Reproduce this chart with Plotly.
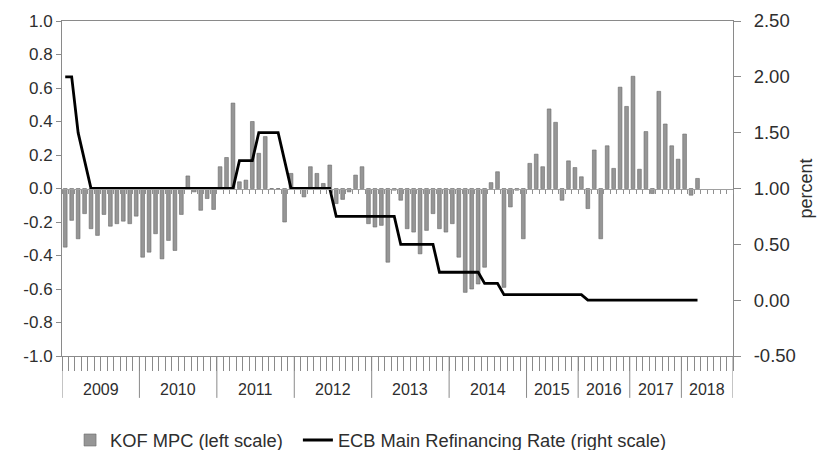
import plotly.graph_objects as go

# ---------------- data ----------------
years = [2009, 2010, 2011, 2012, 2013, 2014, 2015, 2016, 2017, 2018]
month_names = ["Jan", "Feb", "Mar", "Apr", "May", "Jun", "Jul", "Aug", "Sep", "Oct", "Nov", "Dec"]
meeting_months = ["Jan", "Mar", "Apr", "Jun", "Jul", "Sep", "Oct", "Dec"]  # 8 ECB meetings per year from 2015

kof_2009 = [-0.35, -0.19, -0.30, -0.15, -0.24, -0.28, -0.155, -0.225, -0.21, -0.195, -0.21, -0.165]
kof_2010 = [-0.41, -0.38, -0.27, -0.42, -0.31, -0.37, -0.155, 0.075, -0.02, -0.13, -0.06, -0.125]
kof_2011 = [0.13, 0.185, 0.51, 0.04, 0.05, 0.40, 0.21, 0.31, 0.0, 0.0, -0.20, 0.09]
kof_2012 = [0.0, -0.05, 0.13, 0.09, 0.03, 0.14, -0.09, -0.065, -0.02, 0.08, 0.13, -0.21]
kof_2013 = [-0.23, -0.22, -0.44, -0.01, -0.07, -0.24, -0.26, -0.39, -0.25, -0.15, -0.24, -0.26]
kof_2014 = [-0.21, -0.41, -0.62, -0.60, -0.57, -0.47, 0.035, 0.10, -0.59, -0.11, -0.01, -0.30]
kof_2015 = [0.15, 0.205, 0.13, 0.475, 0.395, -0.07, 0.165, 0.125]
kof_2016 = [0.07, -0.12, 0.23, -0.30, 0.255, 0.12, 0.605, 0.49]
kof_2017 = [0.67, 0.115, 0.34, -0.03, 0.58, 0.385, 0.255, 0.175]
kof_2018 = [0.325, -0.04, 0.06]

ecb_2009 = [2.00, 2.00, 1.50, 1.25, 1.00, 1.00, 1.00, 1.00, 1.00, 1.00, 1.00, 1.00]
ecb_2010 = [1.00, 1.00, 1.00, 1.00, 1.00, 1.00, 1.00, 1.00, 1.00, 1.00, 1.00, 1.00]
ecb_2011 = [1.00, 1.00, 1.00, 1.25, 1.25, 1.25, 1.50, 1.50, 1.50, 1.50, 1.25, 1.00]
ecb_2012 = [1.00, 1.00, 1.00, 1.00, 1.00, 1.00, 0.75, 0.75, 0.75, 0.75, 0.75, 0.75]
ecb_2013 = [0.75, 0.75, 0.75, 0.75, 0.50, 0.50, 0.50, 0.50, 0.50, 0.50, 0.25, 0.25]
ecb_2014 = [0.25, 0.25, 0.25, 0.25, 0.25, 0.15, 0.15, 0.15, 0.05, 0.05, 0.05, 0.05]
ecb_2015 = [0.05, 0.05, 0.05, 0.05, 0.05, 0.05, 0.05, 0.05]
ecb_2016 = [0.05, 0.00, 0.00, 0.00, 0.00, 0.00, 0.00, 0.00]
ecb_2017 = [0.00, 0.00, 0.00, 0.00, 0.00, 0.00, 0.00, 0.00]
ecb_2018 = [0.00, 0.00, 0.00]

left_ticks = [-1.0, -0.8, -0.6, -0.4, -0.2, 0.0, 0.2, 0.4, 0.6, 0.8, 1.0]
right_ticks = [-0.50, 0.00, 0.50, 1.00, 1.50, 2.00, 2.50]

# ---------------- build ----------------
periods = {y: (month_names if y < 2015 else meeting_months) for y in years}
categories = [f"{m} {y}" for y in years for m in periods[y]]
kof = kof_2009 + kof_2010 + kof_2011 + kof_2012 + kof_2013 + kof_2014 + kof_2015 + kof_2016 + kof_2017 + kof_2018
ecb = ecb_2009 + ecb_2010 + ecb_2011 + ecb_2012 + ecb_2013 + ecb_2014 + ecb_2015 + ecb_2016 + ecb_2017 + ecb_2018
x_data = categories[:len(kof)]

FONT = "Liberation Sans, Arial, sans-serif"
TXT = "#2e2e2e"
AX = "#8a8a8a"
NBSP = "\u00a0"

fig = go.Figure()
fig.add_trace(go.Bar(
    x=x_data, y=kof, name="KOF MPC (left scale)" + NBSP * 2,
    marker=dict(color="#969696", line=dict(color="#6a6a6a", width=0.6)),
    xaxis="x", yaxis="y",
))
fig.add_trace(go.Scatter(
    x=x_data, y=ecb, name="ECB Main Refinancing Rate (right scale)",
    mode="lines", line=dict(color="#000000", width=2.8),
    xaxis="x", yaxis="y2",
))
# helper trace so the zero-line category axis is drawn
fig.add_trace(go.Scatter(x=categories, y=[None] * len(categories), xaxis="x2", yaxis="y",
                         showlegend=False, hoverinfo="skip"))

n = len(categories)
cat_axis = dict(type="category", categoryorder="array", categoryarray=categories,
                range=[-0.5, n - 0.5], tickmode="array", tickvals=categories,
                showticklabels=False, showgrid=False, zeroline=False, tickson="boundaries",
                automargin=False)

fig.update_layout(
    width=819, height=450,
    margin=dict(l=62, r=86, t=21, b=94, autoexpand=False),
    paper_bgcolor="white", plot_bgcolor="white",
    font=dict(family=FONT, color=TXT, size=17),
    bargap=0.42,
    showlegend=True,
    legend=dict(orientation="h", x=0.012, xanchor="left", xref="paper",
                y=0.022, yanchor="middle", yref="container",
                font=dict(size=18.3, color=TXT), itemwidth=30, tracegroupgap=0,
                bgcolor="rgba(0,0,0,0)"),
    xaxis=dict(**cat_axis, anchor="y", showline=True, linecolor=AX, linewidth=1,
               ticks="outside", ticklen=14, tickcolor=AX, mirror=True),
    xaxis2=dict(**cat_axis, overlaying="x", anchor="free", position=0.5, side="bottom",
                showline=True, linecolor="#a0a0a0", linewidth=1,
                ticks="outside", ticklen=4, tickcolor="#909090"),
    yaxis=dict(range=[-1, 1], tickmode="array", tickvals=left_ticks,
               ticktext=[f"{v:.1f}" for v in left_ticks],
               showline=True, linecolor=AX, ticks="outside", ticklen=5, tickcolor=AX,
               showgrid=False, zeroline=False, tickfont=dict(size=17), automargin=False),
    yaxis2=dict(range=[-0.5, 2.5], overlaying="y", side="right", anchor="x",
                tickmode="array", tickvals=right_ticks,
                ticktext=[f"{v:.2f}" for v in right_ticks],
                showline=True, linecolor=AX, ticks="outside", ticklen=7, tickcolor=AX,
                ticklabelstandoff=9,
                showgrid=False, zeroline=False, tickfont=dict(size=18.5), automargin=False,
                title=dict(text="percent", font=dict(size=18, color=TXT), standoff=4)),
)

# year separators and labels on the bottom axis
start = 0
for y in years:
    cnt = len(periods[y])
    fig.add_shape(type="line", xref="x", yref="paper", x0=start - 0.5, x1=start - 0.5,
                  y0=0, y1=-0.125, line=dict(color=AX, width=1))
    fig.add_annotation(x=start + (cnt - 1) / 2, y=-0.101, xref="x", yref="paper",
                       text=str(y), showarrow=False, yanchor="middle",
                       font=dict(size=16, color=TXT))
    start += cnt
fig.add_shape(type="line", xref="x", yref="paper", x0=start - 0.5, x1=start - 0.5,
              y0=0, y1=-0.125, line=dict(color=AX, width=1))

fig.write_html("out.html")
